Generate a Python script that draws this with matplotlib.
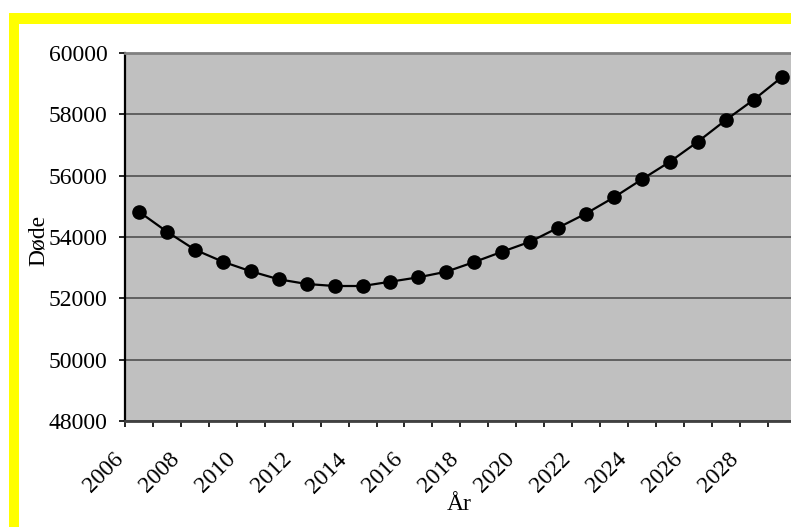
import matplotlib
matplotlib.use("Agg")
import matplotlib.pyplot as plt
from matplotlib.patches import Rectangle

# data
years = list(range(2006, 2030))
deaths = [54825, 54173, 53586, 53195, 52882, 52621, 52468, 52402, 52402, 52543,
          52686, 52869, 53185, 53521, 53847, 54303, 54766, 55295, 55882, 56455,
          57108, 57815, 58477, 59208]
ytick_values = [48000, 50000, 52000, 54000, 56000, 58000, 60000]
xtick_labels = [str(y) for y in years[::2]]

plt.rcParams['font.family'] = 'serif'
plt.rcParams['font.serif'] = ['Liberation Serif', 'DejaVu Serif']

W, H = 791, 527
fig = plt.figure(figsize=(W / 100, H / 100), dpi=100)
fig.patch.set_facecolor('white')

# plot area in pixels: left 125, top 53, right 795.7 (past the edge), bottom 421
ax = fig.add_axes([125 / W, (H - 421) / H, 670.7 / W, 368 / H])
ax.set_facecolor('#c0c0c0')

x = list(range(len(years)))
ax.plot(x, deaths, color='black', linewidth=1.6, marker='o',
        markersize=9.5, markerfacecolor='black', markeredgecolor='black',
        zorder=3)

ax.set_yticks(ytick_values)
ax.set_yticklabels([str(v) for v in ytick_values], fontsize=17)
ax.yaxis.grid(True, color='#606060', linewidth=1.4)
ax.set_axisbelow(True)

# tick marks between categories, labels on every other category
ax.set_xticks([i - 0.5 for i in range(len(years) + 1)], minor=True)
ax.set_xticks([i - 0.4 for i in x[::2]])
ax.set_xticklabels(xtick_labels, fontsize=17, rotation=45, ha='right',
                   va='top')
ax.tick_params(axis='x', which='major', length=0, pad=20)
ax.tick_params(axis='x', which='minor', length=4.5, width=1.2, color='black',
               direction='out')
ax.tick_params(axis='y', length=4.5, width=1.2, color='black',
               direction='out', pad=8)

ax.set_xlim(-0.5, len(years) - 0.5)
ax.set_ylim(48000, 60000)

ax.spines['left'].set_color('black')
ax.spines['left'].set_linewidth(1.6)
ax.spines['bottom'].set_color('#404040')
ax.spines['bottom'].set_linewidth(2)
ax.spines['top'].set_color('#808080')
ax.spines['top'].set_linewidth(2)
ax.spines['right'].set_visible(False)

ax.set_ylabel('Døde', fontsize=17, va='center')
ax.yaxis.set_label_coords((38 - 125) / 670.7, (421 - 240) / 368)
ax.set_xlabel('År', fontsize=17, va='center')
ax.xaxis.set_label_coords((459 - 125) / 670.7, (421 - 505) / 368)

# yellow frame on the top and left edge
fig.add_artist(Rectangle((9 / W, 0), 10 / W, (H - 13) / H,
                         transform=fig.transFigure, color='#ffff00', lw=0))
fig.add_artist(Rectangle((9 / W, (H - 24) / H), (W - 9) / W, 11 / H,
                         transform=fig.transFigure, color='#ffff00', lw=0))

fig.savefig('out.png', dpi=100)
